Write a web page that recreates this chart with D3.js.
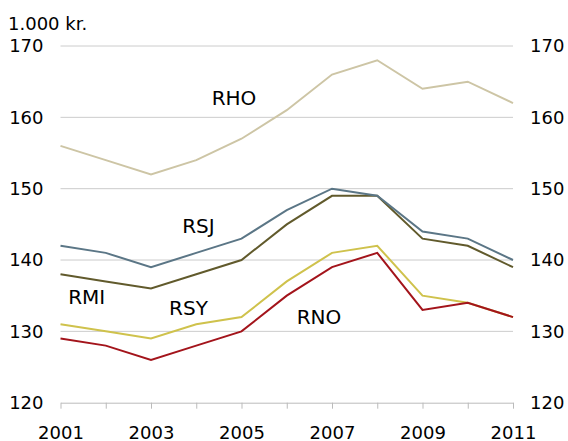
<!DOCTYPE html>
<html lang="da">
<head>
    <meta charset="UTF-8">
    <title>Indkomst</title>
    <script src="https://d3js.org/d3.v7.min.js"></script>
    <style>
        body { margin: 0; background: #fff; }
        text { font-family: "DejaVu Sans", sans-serif; font-size: 18px; fill: #000; }
        .name { font-size: 20px; }
        .grid line { stroke: #cccccc; stroke-width: 1px; }
        .line { fill: none; stroke-width: 2px; }
    </style>
</head>
<body>
    <svg width="568" height="441"></svg>
    <script>
        // data (1.000 kr.)
        const years = [2001, 2002, 2003, 2004, 2005, 2006, 2007, 2008, 2009, 2010, 2011];
        const rho = [156, 154, 152, 154, 157, 161, 166, 168, 164, 165, 162];
        const rmi = [138, 137, 136, 138, 140, 145, 149, 149, 143, 142, 139];
        const rsj = [142, 141, 139, 141, 143, 147, 150, 149, 144, 143, 140];
        const rsy = [131, 130, 129, 131, 132, 137, 141, 142, 135, 134, 132];
        const rno = [129, 128, 126, 128, 130, 135, 139, 141, 133, 134, 132];
        const yTicks = [120, 130, 140, 150, 160, 170];
        const xTickLabels = [2001, 2003, 2005, 2007, 2009, 2011];

        const seriesNames = ["RHO", "RMI", "RSJ", "RSY", "RNO"];
        const seriesValues = [rho, rmi, rsj, rsy, rno];
        const seriesColors = ["#cdc5a5", "#615a2c", "#5b7686", "#cfc24c", "#a3141b"];
        // where the name labels sit, in data units (year, value)
        const labelYears = [2004.34, 2001.17, 2003.69, 2003.4, 2006.22];
        const labelValues = [161.75, 133.8, 143.84, 132.3, 131.0];

        const svg = d3.select("svg");
        const plotLeft = 60.5, plotRight = 513, plotTop = 46, plotBottom = 402.7;

        const x = d3.scaleLinear().domain([2001, 2011]).range([plotLeft, plotRight]);
        const y = d3.scaleLinear().domain([120, 170]).range([plotBottom, plotTop]);

        // gridlines
        svg.append("g")
            .attr("class", "grid")
            .selectAll("line")
            .data(yTicks.filter(d => d !== 120))
            .join("line")
            .attr("x1", plotLeft).attr("x2", plotRight)
            .attr("y1", d => y(d)).attr("y2", d => y(d));

        // left and right value labels
        const yLeft = d3.axisLeft(y).tickValues(yTicks).tickSize(0).tickPadding(17);
        svg.append("g")
            .attr("transform", `translate(${plotLeft},0)`)
            .call(yLeft)
            .call(g => g.select(".domain").remove())
            .call(g => g.selectAll("text").style("font-size", "18px").style("font-family", "DejaVu Sans"));

        const yRight = d3.axisRight(y).tickValues(yTicks).tickSize(0).tickPadding(17);
        svg.append("g")
            .attr("transform", `translate(${plotRight},0)`)
            .call(yRight)
            .call(g => g.select(".domain").remove())
            .call(g => g.selectAll("text").style("font-size", "18px").style("font-family", "DejaVu Sans"));

        // bottom axis: ticks every year, labels every other year
        const xAxis = d3.axisBottom(x)
            .tickValues(years)
            .tickSize(6)
            .tickSizeOuter(0)
            .tickPadding(18)
            .tickFormat(d => xTickLabels.includes(d) ? d : "");
        svg.append("g")
            .attr("transform", `translate(0,${plotBottom})`)
            .call(xAxis)
            .call(g => g.select(".domain").attr("stroke", "#bbbbbb"))
            .call(g => g.selectAll(".tick line").attr("stroke", "#bbbbbb"))
            .call(g => g.selectAll("text").style("font-size", "18px").style("font-family", "DejaVu Sans"));

        // lines
        const line = d3.line()
            .x((d, i) => x(years[i]))
            .y(d => y(d));

        svg.selectAll(".line")
            .data(seriesValues)
            .join("path")
            .attr("class", "line")
            .attr("stroke", (d, i) => seriesColors[i])
            .attr("d", line);

        // series names
        svg.selectAll(".name")
            .data(seriesNames)
            .join("text")
            .attr("class", "name")
            .attr("x", (d, i) => x(labelYears[i]))
            .attr("y", (d, i) => y(labelValues[i]))
            .text(d => d);

        // unit
        svg.append("text")
            .attr("x", 8)
            .attr("y", 30)
            .text("1.000 kr.");
    </script>
</body>
</html>
